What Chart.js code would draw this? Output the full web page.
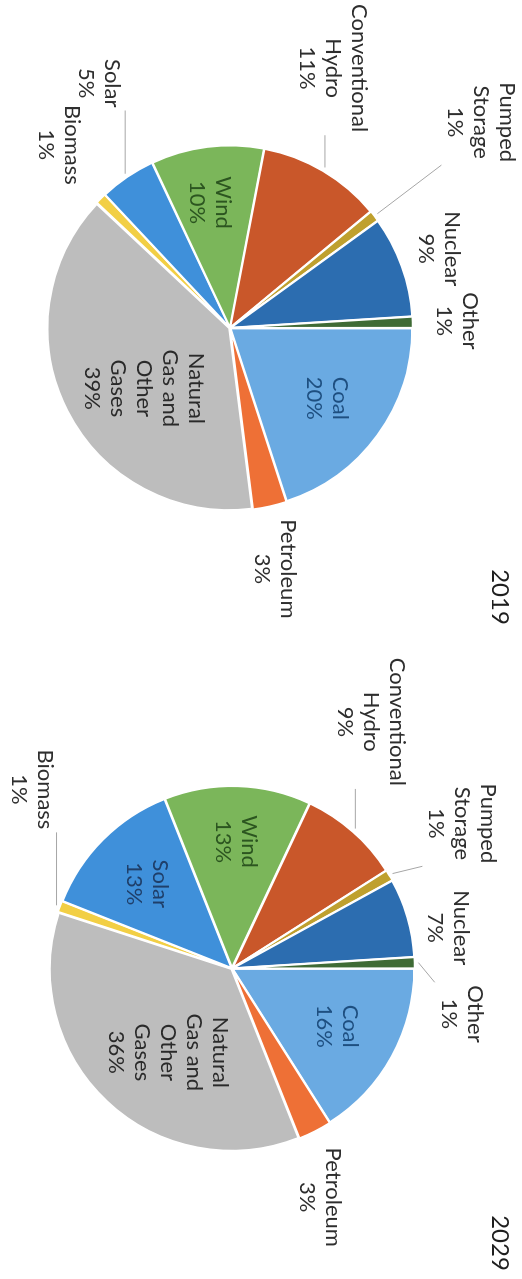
<!DOCTYPE html>
<html>
<head>
<meta charset="utf-8">
<script src="https://cdn.jsdelivr.net/npm/chart.js@4.4.1/dist/chart.umd.min.js"></script>
<style>
  html, body { margin: 0; padding: 0; background: #fff; }
  body { width: 522px; height: 1279px; overflow: hidden; position: relative; }
  /* the sheet is laid out landscape and turned a quarter clockwise */
  #sheet { position: absolute; left: 0; top: 0; width: 1279px; height: 522px;
           transform-origin: 0 0; transform: translate(522px, 0) rotate(90deg); }
  .panel { position: absolute; top: 0; width: 640px; height: 522px; }
</style>
</head>
<body>
<div id="sheet">
  <div class="panel" style="left:0"><canvas id="pie2019" width="640" height="522"></canvas></div>
  <div class="panel" style="left:639px"><canvas id="pie2029" width="640" height="522"></canvas></div>
</div>
<script>
const categories = ['Coal', 'Petroleum', 'Natural Gas and Other Gases', 'Biomass', 'Solar', 'Wind',
                    'Conventional Hydro', 'Pumped Storage', 'Nuclear', 'Other'];
const share2019 = [20, 3, 39, 1, 5, 10, 11, 1, 9, 1];
const share2029 = [16, 3, 36, 1, 13, 13, 9, 1, 7, 1];
const years = ['2019', '2029'];

const sliceColors = ['#6aaae2', '#ee7036', '#bdbdbd', '#f2cf45', '#3f90da', '#7bb65a',
                     '#c9572a', '#bfa02e', '#2c6db0', '#3f6b35'];

// category names as they wrap in the data labels
const labelLines = [['Coal'], ['Petroleum'], ['Natural', 'Gas and', 'Other', 'Gases'], ['Biomass'],
                    ['Solar'], ['Wind'], ['Conventional', 'Hydro'], ['Pumped', 'Storage'], ['Nuclear'], ['Other']];

// label placement: r = distance in outer radii along the slice middle, da = angle nudge in degrees
const place2019 = [
  { r: 0.66, da: 0, color: '#1e4f80' },
  { r: 1.35, da: 2 },
  { r: 0.58, da: -8, color: '#2a2a2a' },
  { r: 1.38, da: 2 },
  { r: 1.53, da: 6, leader: true },
  { r: 0.70, da: -2, color: '#2c5520' },
  { r: 1.54, da: -9, leader: true },
  { r: 1.79, da: -1.5, leader: true },
  { r: 1.23, da: -1 },
  { r: 1.25, da: 0 }
];
const place2029 = [
  { r: 0.66, da: 0, color: '#1e4f80' },
  { r: 1.35, da: 6 },
  { r: 0.58, da: -6, color: '#2a2a2a' },
  { r: 1.48, da: 22, leader: true },
  { r: 0.66, da: 0, color: '#1f3f6a' },
  { r: 0.70, da: 0, color: '#2c5520' },
  { r: 1.56, da: -12, leader: true },
  { r: 1.50, da: -1.6, leader: true },
  { r: 1.21, da: 5.5 },
  { r: 1.29, da: 13, leader: true }
];

const FONT = '22px Lato';
const LINE_H = 26;

const sliceLabels = {
  id: 'sliceLabels',
  afterDatasetsDraw(chart, args, opts) {
    const ctx = chart.ctx;
    const meta = chart.getDatasetMeta(0);
    const values = chart.data.datasets[0].data;
    ctx.save();
    ctx.font = FONT;
    ctx.textAlign = 'center';
    ctx.textBaseline = 'middle';
    meta.data.forEach((arc, i) => {
      const p = opts.place[i];
      const { x, y, startAngle, endAngle, outerRadius } =
        arc.getProps(['x', 'y', 'startAngle', 'endAngle', 'outerRadius'], true);
      const mid = (startAngle + endAngle) / 2;
      const a = mid + p.da * Math.PI / 180;
      const lx = x + Math.cos(a) * outerRadius * p.r;
      const ly = y + Math.sin(a) * outerRadius * p.r;
      const lines = labelLines[i].concat(values[i] + '%');
      const h = lines.length * LINE_H;
      const w = Math.max(...lines.map(s => ctx.measureText(s).width));

      if (p.leader) {
        // short grey leader from the slice edge to the nearest side of the label
        const ex = x + Math.cos(mid) * (outerRadius + 5);
        const ey = y + Math.sin(mid) * (outerRadius + 5);
        const bx = Math.min(Math.max(ex, lx - w / 2 - 3), lx + w / 2 + 3);
        const by = Math.min(Math.max(ey, ly - h / 2 - 1), ly + h / 2 + 1);
        ctx.strokeStyle = '#a6a6a6';
        ctx.lineWidth = 1;
        ctx.beginPath();
        ctx.moveTo(ex, ey);
        ctx.lineTo(bx, by);
        ctx.stroke();
      }

      ctx.fillStyle = p.color || '#2e2e2e';
      lines.forEach((s, k) => {
        ctx.fillText(s, lx, ly - h / 2 + LINE_H * (k + 0.5));
      });
    });
    ctx.restore();
  }
};

const yearTitle = {
  id: 'yearTitle',
  afterDraw(chart, args, opts) {
    const ctx = chart.ctx;
    ctx.save();
    ctx.font = '24px Lato';
    ctx.fillStyle = '#1e1e1e';
    ctx.textAlign = 'center';
    ctx.textBaseline = 'middle';
    ctx.fillText(opts.text, opts.x, opts.y);
    ctx.restore();
  }
};

function makePie(canvasId, values, place, title, padding) {
  return new Chart(document.getElementById(canvasId), {
    type: 'pie',
    data: {
      labels: categories,
      datasets: [{
        data: values,
        backgroundColor: sliceColors,
        borderColor: '#ffffff',
        borderWidth: 2,
        offset: 3,
        hoverOffset: 0
      }]
    },
    options: {
      responsive: false,
      animation: false,
      events: [],
      layout: { padding: padding },
      plugins: {
        legend: { display: false },
        tooltip: { enabled: false },
        sliceLabels: { place: place },
        yearTitle: title
      }
    },
    plugins: [sliceLabels, yearTitle]
  });
}

makePie('pie2019', share2019, place2019, { text: years[0], x: 597, y: 22 },
        { left: 144, right: 128, top: 108, bottom: 46 });
makePie('pie2029', share2029, place2029, { text: years[1], x: 604, y: 22 },
        { left: 145, right: 126, top: 106, bottom: 48 });
</script>
</body>
</html>
